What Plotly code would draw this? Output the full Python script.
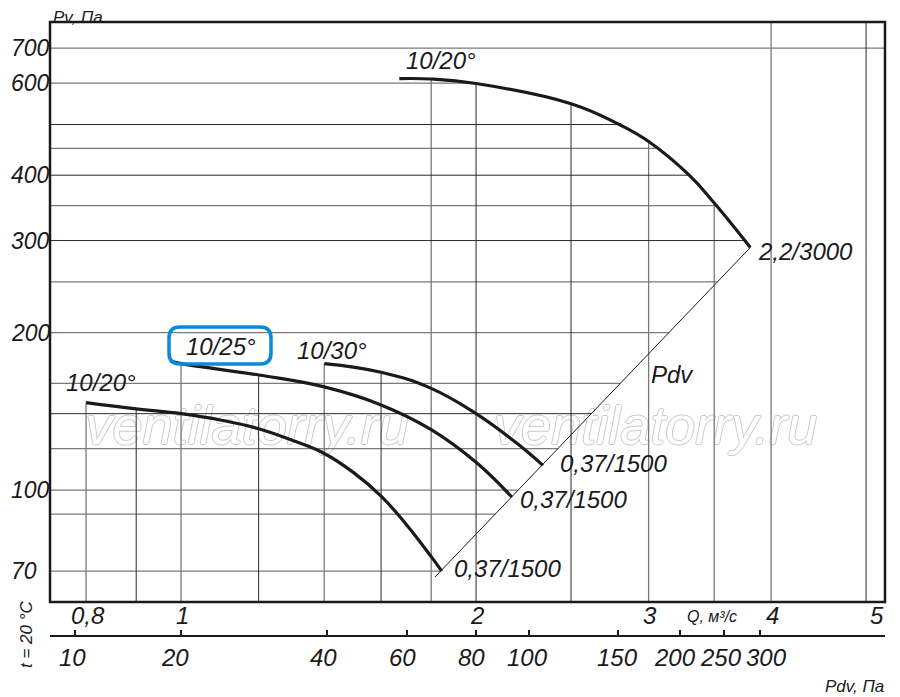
import numpy as np
import plotly.graph_objects as go

# fan curves, Q in m3/s, Pv in Pa
q_a = [0.8, 0.9, 1.0, 1.1, 1.2, 1.3, 1.4, 1.5, 1.6, 1.7, 1.8, 1.845]
pv_a = [147, 143, 140, 136, 131, 124.4, 117.5, 108, 97.4, 85.7, 74.6, 70]
q_b = [0.975, 1.0, 1.2, 1.4, 1.6, 1.8, 2.0, 2.175]
pv_b = [176.5, 174.5, 166, 157.5, 145.5, 130.5, 113, 97]
q_c = [1.4, 1.6, 1.8, 2.0, 2.2, 2.34]
pv_c = [174.5, 168, 156.5, 140, 123, 111.5]
q_d = [1.67, 1.8, 2.0, 2.5, 2.8, 3.0, 3.3, 3.5, 3.81]
pv_d = [612, 611, 599, 548, 500, 464, 400, 354, 291]
blade_labels = ["10/20°", "10/25°", "10/30°", "10/20°"]
motor_labels = ["0,37/1500", "0,37/1500", "0,37/1500", "2,2/3000"]

# dynamic pressure line
q_pdv = [1.816, 3.81]
pv_pdv = [68.2, 291]

# grid
grid_q_dark = [0.9, 1.2, 1.6, 2, 2.5, 5]
grid_q_gray = [0.8, 1, 1.4, 1.8, 3, 3.5, 4]
grid_pv_dark = [500, 400, 300, 140]
grid_pv_gray = [700, 600, 450, 350, 250, 200, 160, 120, 100, 90, 70]

# axes
q_ticks = [0.8, 1, 2, 3, 4, 5]
q_labels = ["0,8", "1", "2", "3", "4", "5"]
pv_ticks = [70, 100, 200, 300, 400, 600, 700]
pdv_labels = ["10", "20", "40", "60", "80", "100", "150", "200", "250", "300"]
pdv_tick_q = [0.78, 1.0, 1.41, 1.70, 2.0, 2.265, 2.79, 3.23, 3.58, 3.90]

X_RANGE = [-0.1337, 0.7183]
Y_RANGE = [1.786, 2.895]
INK = "#1a1a1a"
FONT = "Liberation Sans"

curves = [(q_a, pv_a), (q_b, pv_b), (q_c, pv_c), (q_d, pv_d)]


def top_at(q):
    vals = [np.interp(np.log10(q), np.log10(cq), np.log10(cp))
            for cq, cp in curves if cq[0] <= q <= cq[-1]]
    return 10 ** max(vals) if vals else 2000


def right_at(p):
    if p > max(pv_d):
        return 10
    if p >= pv_d[-1]:
        return 10 ** np.interp(np.log10(p), np.log10(pv_d[::-1]), np.log10(q_d[::-1]))
    return 10 ** np.interp(np.log10(p), np.log10(pv_pdv), np.log10(q_pdv))


def grid_trace(qs, pvs, color, width):
    xs, ys = [], []
    for q in qs:
        xs += [q, q, None]
        ys += [top_at(q), 30, None]
    for p in pvs:
        xs += [0.5, right_at(p), None]
        ys += [p, p, None]
    return go.Scatter(x=xs, y=ys, mode="lines", line=dict(color=color, width=width),
                      hoverinfo="skip", showlegend=False)


# page pixel -> paper fraction (plot area 50..885 x 22..635)
def px(x):
    return (x - 50) / 835


def py(y):
    return (635 - y) / 613


fig = go.Figure()

# watermark
fig.add_trace(go.Scatter(
    x=[1.168, 3.05], y=[130, 130], mode="text", text=["ventilatorry.ru"] * 2,
    textfont=dict(family=FONT, size=54, color="white", style="italic",
                  shadow="1px 0 0 #cacaca, -1px 0 0 #cacaca, 0 1px 0 #cacaca, 0 -1px 0 #cacaca"),
    hoverinfo="skip", showlegend=False))

fig.add_trace(grid_trace(grid_q_gray, grid_pv_gray, "#7a7a7a", 1.3))
fig.add_trace(grid_trace(grid_q_dark, grid_pv_dark, "#2a2a2a", 1))

fig.add_trace(go.Scatter(x=q_pdv, y=pv_pdv, mode="lines", line=dict(color=INK, width=1),
                         hoverinfo="skip", showlegend=False))

for cq, cp in curves:
    fig.add_trace(go.Scatter(x=cq, y=cp, mode="lines",
                             line=dict(color=INK, width=3.2, shape="spline", smoothing=1.2),
                             showlegend=False))

# carrier for the Pdv scale
fig.add_trace(go.Scatter(x=pdv_tick_q, y=[0] * len(pdv_tick_q), xaxis="x2", yaxis="y2",
                         mode="lines", line=dict(width=0), hoverinfo="skip", showlegend=False))

annotations = []
start_shift = [(15, 20), (51, 15), (8, 13), (42, 18)]
end_shift = [(10, 3), (6, -2), (15, 2), (6, -4)]
for (cq, cp), name, motor, ss, es in zip(curves, blade_labels, motor_labels, start_shift, end_shift):
    annotations.append(dict(x=np.log10(cq[0]), y=np.log10(cp[0]), text=name, showarrow=False,
                            xanchor="center", yanchor="middle",
                            xshift=ss[0], yshift=ss[1], font=dict(size=24)))
    annotations.append(dict(x=np.log10(cq[-1]), y=np.log10(cp[-1]), text=motor, showarrow=False,
                            xanchor="left", yanchor="middle",
                            xshift=es[0], yshift=es[1], font=dict(size=24)))

annotations.append(dict(x=np.log10(3.17), y=np.log10(166.6), text="Pdv", showarrow=False,
                        xanchor="center", yanchor="middle", font=dict(size=24)))

for p in pv_ticks:
    annotations.append(dict(x=px(9), xref="paper", y=np.log10(p), yref="y", text=str(p),
                            xanchor="left", yanchor="middle", showarrow=False,
                            font=dict(size=23)))

q_shift = [2, 1, 1, 1, 1, 11]
for q, lab, s in zip(q_ticks, q_labels, q_shift):
    annotations.append(dict(x=np.log10(q), xref="x", y=py(615), yref="paper", text=lab,
                            xanchor="center", yanchor="middle", xshift=s, showarrow=False,
                            font=dict(size=24)))

# Pdv scale labels sit slightly off their ticks in the original
pdv_shift = [-3, -6, -4, -4, -5, -2, 0, -5, -3, 6]
for q, lab, s in zip(pdv_tick_q, pdv_labels, pdv_shift):
    annotations.append(dict(x=np.log10(q), xref="x2", y=py(657), yref="paper", text=lab,
                            xanchor="center", yanchor="middle", xshift=s, showarrow=False,
                            font=dict(size=24)))

annotations += [
    dict(x=px(78), y=py(17), text="Pv, Па", font=dict(size=17)),
    dict(x=px(712), y=py(616), text="Q, м³/с", font=dict(size=16)),
    dict(x=px(854), y=py(686), text="Pdv, Па", font=dict(size=17)),
    dict(x=px(26), y=py(634), text="t = 20 °C", textangle=-90, font=dict(size=17)),
]
for a in annotations[-4:]:
    a.update(xref="paper", yref="paper", showarrow=False, xanchor="center", yanchor="middle")

# rounded blue frame around the 10/25° label
x0, x1, y0, y1, r = px(169), px(271), py(364), py(327), 11
rx, ry = r / 835, r / 613
box = (f"M {x0 + rx},{y0} L {x1 - rx},{y0} Q {x1},{y0} {x1},{y0 + ry} "
       f"L {x1},{y1 - ry} Q {x1},{y1} {x1 - rx},{y1} L {x0 + rx},{y1} "
       f"Q {x0},{y1} {x0},{y1 - ry} L {x0},{y0 + ry} Q {x0},{y0} {x0 + rx},{y0} Z")

shapes = [
    dict(type="rect", xref="x domain", yref="y domain", x0=0, x1=1, y0=0, y1=1,
         line=dict(color=INK, width=2.5), layer="above"),
    dict(type="path", xref="paper", yref="paper", path=box,
         line=dict(color="#0a8ad8", width=3.5), layer="above"),
]

# the page has an 8px body margin, so the figure is 8px smaller than the window
fig.update_layout(
    width=892, height=689, autosize=False,
    margin=dict(l=42, r=15, t=14, b=62),
    paper_bgcolor="white", plot_bgcolor="white",
    font=dict(family=FONT, style="italic", color=INK),
    xaxis=dict(type="log", range=X_RANGE, domain=[0, 1], anchor="y",
               showgrid=False, zeroline=False, showline=False,
               showticklabels=False, ticks=""),
    yaxis=dict(type="log", range=Y_RANGE, domain=[0.0538, 1], anchor="x",
               showgrid=False, zeroline=False, showline=False, showticklabels=False),
    xaxis2=dict(type="log", range=X_RANGE, domain=[0, 1], anchor="y2",
                showgrid=False, zeroline=False, showline=True, linecolor=INK, linewidth=2,
                tickvals=pdv_tick_q, ticks="inside", ticklen=5, showticklabels=False,
                tickwidth=1.5, tickcolor=INK),
    yaxis2=dict(domain=[0, 0.001], visible=False, anchor="x2"),
    annotations=annotations,
    shapes=shapes,
)

fig.write_html("out.html")
